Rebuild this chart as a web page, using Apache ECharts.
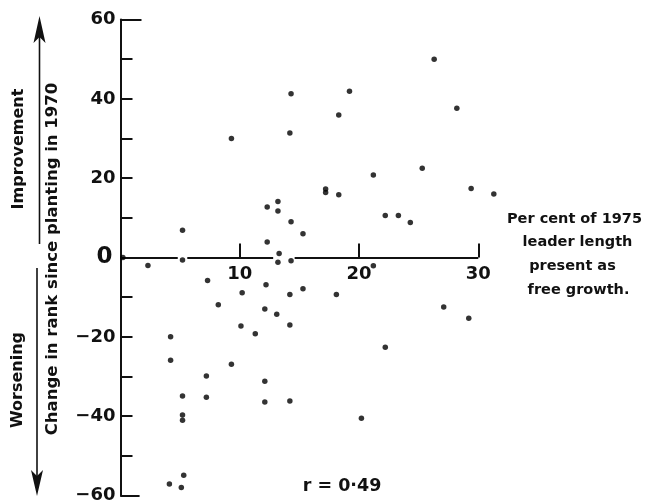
<!DOCTYPE html>
<html><head><meta charset="utf-8">
<script src="https://cdn.jsdelivr.net/npm/echarts@6/dist/echarts.min.js"></script>
<style>html,body{margin:0;padding:0;background:#fff}#c{width:648px;height:500px}</style>
</head><body><div id="c"></div>
<script>
// Percent of 1975 leader length present as free growth (x)
const percentFreeGrowth = [
  0.2, 2.3, 5.2, 5.2, 7.3, 8.2, 10.2, 10.1, 11.3, 4.2,
  4.2, 9.3, 7.2, 5.2, 7.2, 12.1, 12.1, 14.2, 5.2, 5.2,
  5.3, 4.1, 5.1, 9.3, 14.3, 14.2, 19.2, 18.3, 26.3, 28.2,
  25.3, 12.3, 13.2, 13.2, 14.3, 15.3, 12.3, 13.3, 13.2, 14.3,
  12.2, 14.2, 15.3, 12.1, 13.1, 14.2, 21.2, 17.2, 17.2, 18.3,
  22.2, 23.3, 24.3, 29.4, 31.3, 21.2, 18.1, 27.1, 29.2, 22.2,
  20.2
];
// Change in rank since planting in 1970 (y)
const rankChange = [
  0, -2.0, 6.9, -0.6, -5.8, -11.9, -8.9, -17.3, -19.2, -20.0,
  -25.9, -26.9, -29.9, -34.9, -35.2, -31.2, -36.4, -36.2, -39.7, -41.0,
  -54.9, -57.1, -58.0, 30.0, 41.3, 31.4, 41.9, 35.9, 50.0, 37.6,
  22.5, 12.7, 14.1, 11.7, 9.0, 6.0, 3.9, 1.0, -1.2, -0.8,
  -6.9, -9.3, -7.9, -13.0, -14.3, -17.0, 20.8, 17.3, 16.4, 15.8,
  10.6, 10.6, 8.8, 17.4, 16.0, -2.1, -9.3, -12.5, -15.3, -22.6,
  -40.5
];
const xTickLabels = [10, 20, 30];
const yTickLabels = [60, 40, 20, 0, -20, -40, -60];
const xAxisSegments = [[0.6, 4.8], [5.6, 12.8], [14.6, 30]];
const xAxisLabelLines = ['Per cent of 1975', 'leader length', 'present as', 'free growth.'];
const yTitle = 'Change in rank since planting in 1970';
const upLabel = 'Improvement';
const downLabel = 'Worsening';
const corrText = 'r = 0\u00b749';

const points = percentFreeGrowth.map((x, i) => [x, rankChange[i]]);
const xLabelAnchors = xTickLabels.map(v => [v, 0]);
const FONT = '"DejaVu Sans", sans-serif';
const INK = '#111';

const segLines = xAxisSegments.map(s => [{coord: [s[0], 0]}, {coord: [s[1], 0]}]);
segLines.push([{coord: [0, 60]}, {coord: [1.76, 60]}]);
segLines.push([{coord: [0, -60]}, {coord: [1.6, -60]}]);

const chart = echarts.init(document.getElementById('c'), null, {renderer: 'canvas'});

function txt(text, x, y, size, rot) {
  return {
    type: 'text', x: x, y: y, rotation: rot || 0, silent: true,
    style: {
      text: text, fill: INK,
      font: 'bold ' + size + 'px ' + FONT,
      align: 'center', verticalAlign: 'middle',
      textAlign: 'center', textVerticalAlign: 'middle'
    }
  };
}

chart.setOption({
  animation: false,
  backgroundColor: '#fff',
  grid: {left: 120.5, top: 19.5, right: 169.7, bottom: 4.5, containLabel: false, outerBoundsMode: 'none'},
  xAxis: {
    type: 'value', min: 0, max: 30, interval: 10,
    splitLine: {show: false},
    axisLine: {show: true, onZero: true, lineStyle: {color: 'rgba(0,0,0,0)', width: 0}},
    axisTick: {show: true, inside: true, length: 14, lineStyle: {color: INK, width: 2}},
    axisLabel: {show: false}
  },
  yAxis: {
    type: 'value', min: -60, max: 60, interval: 10,
    splitLine: {show: false},
    axisLine: {show: true, onZero: false, lineStyle: {color: INK, width: 2}},
    axisTick: {show: true, inside: true, length: 12, lineStyle: {color: INK, width: 2}},
    axisLabel: {
      margin: 5, color: INK, fontSize: 18, fontWeight: 'bold', fontFamily: FONT,
      showMinLabel: true, showMaxLabel: true,
      formatter: v => {
        if (!yTickLabels.includes(v)) return '';
        if (v === 0) return '{z|0}';
        return v < 0 ? '\u2212' + (-v) : String(v);
      },
      rich: {z: {fontSize: 23, fontWeight: 'bold', fontFamily: FONT, color: INK, padding: [0, 3, 0, 0]}}
    }
  },
  series: [{
    type: 'scatter',
    data: points,
    symbolSize: 5.5,
    clip: false,
    itemStyle: {color: '#000'},
    silent: true,
    z: 3,
    markLine: {
      silent: true, symbol: 'none', animation: false,
      label: {show: false},
      lineStyle: {color: INK, width: 2, type: 'solid'},
      emphasis: {disabled: true},
      data: segLines
    }
  }, {
    type: 'scatter',
    data: xLabelAnchors,
    symbolSize: 0,
    silent: true,
    z: 2,
    itemStyle: {color: '#000', opacity: 1},
    label: {
      show: true, position: 'bottom', distance: 8,
      color: INK, fontSize: 18, fontWeight: 'bold', fontFamily: FONT,
      textBorderWidth: 0, textBorderColor: 'transparent', opacity: 1,
      formatter: p => String(p.value[0])
    }
  }],
  graphic: [
    {type: 'line', silent: true, shape: {x1: 39.5, y1: 36, x2: 39.5, y2: 244}, style: {stroke: INK, lineWidth: 1.6}},
    {type: 'polygon', silent: true, shape: {points: [[39.5, 16], [45.5, 43], [39.5, 37], [33.5, 43]]}, style: {fill: INK}},
    {type: 'line', silent: true, shape: {x1: 37, y1: 268, x2: 37, y2: 478}, style: {stroke: INK, lineWidth: 1.6}},
    {type: 'polygon', silent: true, shape: {points: [[37, 496], [43, 470], [37, 476], [31, 470]]}, style: {fill: INK}},
    txt(upLabel, 18.8, 149, 16, Math.PI / 2),
    txt(downLabel, 17.8, 380, 16, Math.PI / 2),
    txt(yTitle, 53, 259, 16.5, Math.PI / 2),
    txt(xAxisLabelLines[0], 574.5, 219, 14.5),
    txt(xAxisLabelLines[1], 577.5, 242, 14.5),
    txt(xAxisLabelLines[2], 572.5, 266, 14.5),
    txt(xAxisLabelLines[3], 578.5, 290, 14.5),
    txt(corrText, 342, 486, 17.5)
  ]
});
</script></body></html>
